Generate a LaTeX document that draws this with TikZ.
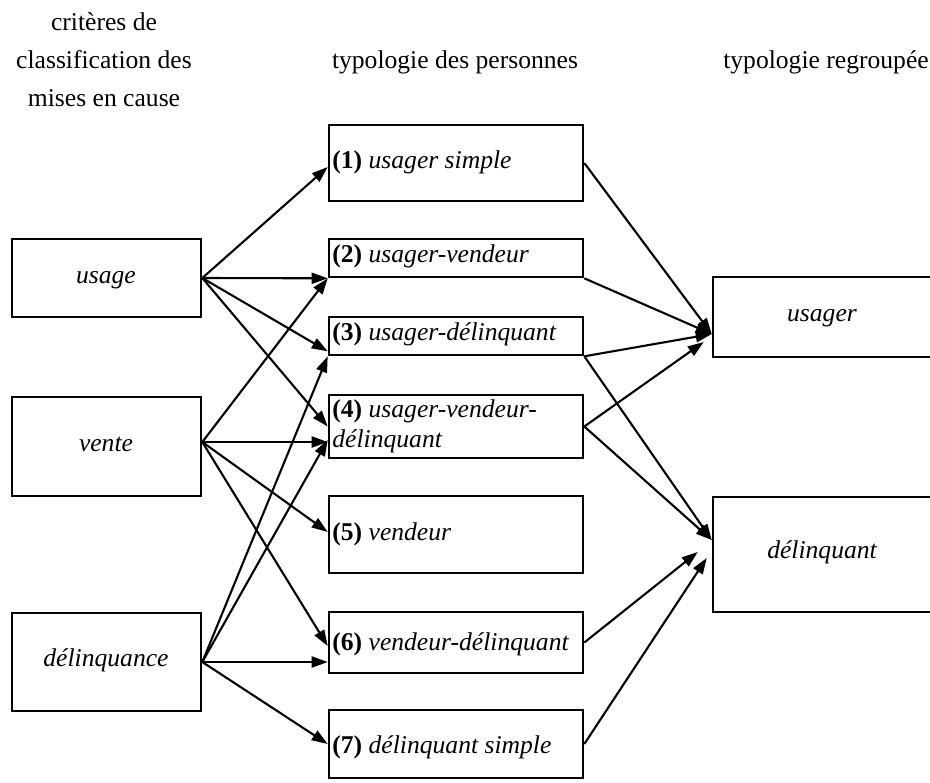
\documentclass[tikz,border=0pt]{standalone}
\usepackage{fontspec}
\setmainfont{Liberation Serif}
\usetikzlibrary{arrows.meta}
\begin{document}
\begin{tikzpicture}[x=0.5pt,y=-0.5pt,
  box/.style={draw, line width=1.3pt, inner sep=0pt, rectangle},
  lbl/.style={inner sep=0pt, font=\fontsize{12.8}{15}\selectfont},
  arr/.style={line width=1.05pt, -{Triangle[length=8pt,width=5.5pt]}}]
\useasboundingbox (0,0) rectangle (930,782);

% headers
\node[lbl, anchor=base] (h1a) at (104,30) {critères de};
\node[lbl, anchor=base] (h1b) at (104,68) {classification des};
\node[lbl, anchor=base] (h1c) at (104,106) {mises en cause};
\node[lbl, anchor=base] (h2) at (455,68) {typologie des personnes};
\node[lbl, anchor=base] (h3) at (826,68) {typologie regroupée};

% left boxes
\node[box, minimum width=94.5pt, minimum height=39pt] (us) at (106.5,278) {};
\node[box, minimum width=94.5pt, minimum height=49.5pt] (ve) at (106.5,446.5) {};
\node[box, minimum width=94.5pt, minimum height=49pt] (de) at (106.5,662) {};
\node[lbl, anchor=base] (tus) at (106,283) {\itshape usage};
\node[lbl, anchor=base] (tve) at (106,451) {\itshape vente};
\node[lbl, anchor=base] (tde) at (106,666) {\itshape délinquance};

% middle boxes
\node[box, minimum width=127pt, minimum height=38pt] (b1) at (456,163) {};
\node[box, minimum width=127pt, minimum height=19pt] (b2) at (456,258) {};
\node[box, minimum width=127pt, minimum height=19pt] (b3) at (456,336) {};
\node[box, minimum width=127pt, minimum height=31.5pt] (b4) at (456,426.5) {};
\node[box, minimum width=127pt, minimum height=38.5pt] (b5) at (456,534.5) {};
\node[box, minimum width=127pt, minimum height=30.5pt] (b6) at (456,642.5) {};
\node[box, minimum width=127pt, minimum height=34pt] (b7) at (456,744) {};
\node[lbl, anchor=base west] (t1) at (332,168) {\textbf{(1)} \textit{usager simple}};
\node[lbl, anchor=base west] (t2) at (332,262) {\textbf{(2)} \textit{usager-vendeur}};
\node[lbl, anchor=base west] (t3) at (332,340) {\textbf{(3)} \textit{usager-délinquant}};
\node[lbl, anchor=base west] (t4a) at (332,417) {\textbf{(4)} \textit{usager-vendeur-}};
\node[lbl, anchor=base west] (t4b) at (332,447) {\textit{délinquant}};
\node[lbl, anchor=base west] (t5) at (332,540) {\textbf{(5)} \textit{vendeur}};
\node[lbl, anchor=base west] (t6) at (332,650) {\textbf{(6)} \textit{vendeur-délinquant}};
\node[lbl, anchor=base west] (t7) at (332,753) {\textbf{(7)} \textit{délinquant simple}};

% right boxes
\node[box, minimum width=109pt, minimum height=40pt] (ru) at (822,317) {};
\node[box, minimum width=109pt, minimum height=57.5pt] (rd) at (822,554.5) {};
\node[lbl, anchor=base] (tru) at (822,321) {\itshape usager};
\node[lbl, anchor=base] (trd) at (822,558) {\itshape délinquant};

% connector points
\coordinate (vo) at ([yshift=2.25pt]ve.east);
\coordinate (ut) at ([yshift=-8.5pt]ru.west);
\coordinate (ut2) at ([xshift=-4pt,yshift=-12.5pt]ru.west);
\coordinate (dt) at ([yshift=7.25pt]rd.west);
\coordinate (dt6) at ([xshift=-7pt,yshift=1.25pt]rd.west);
\coordinate (dt7) at ([xshift=-2.5pt,yshift=-1.75pt]rd.west);

% usage arrows
\draw[arr] (us.east) -- ([yshift=-2pt]b1.west);
\draw[arr] (us.east) -- (b2.south west);
\draw[arr] (us.east) -- ([yshift=2.5pt]b3.south west);
\draw[arr] (us.east) -- (b4.west);
% vente arrows
\draw[arr] (vo) -- (b2.south west);
\draw[arr] (vo) -- (vo -| b4.west);
\draw[arr] (vo) -- ([yshift=1.25pt]b5.west);
\draw[arr] (vo) -- ([yshift=-1.75pt]b6.west);
% delinquance arrows
\draw[arr] (de.east) -- (b3.south west);
\draw[arr] (de.east) -- ([yshift=-6.75pt]b4.west);
\draw[arr] (de.east) -- (de.east -| b6.west);
\draw[arr] (de.east) -- (b7.west);
% middle to right
\draw[arr] (b1.east) -- (ut);
\draw[arr] (b2.south east) -- (ut);
\draw[arr] (b3.south east) -- (ut);
\draw[arr] (b4.east) -- (ut2);
\draw[arr] (b3.south east) -- (dt);
\draw[arr] (b4.east) -- (dt);
\draw[arr] (b6.east) -- (dt6);
\draw[arr] (b7.east) -- (dt7);
\end{tikzpicture}
\end{document}
